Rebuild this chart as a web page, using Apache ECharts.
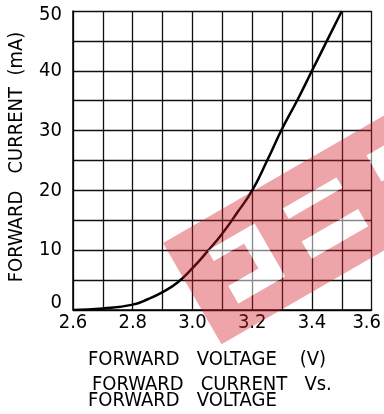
<!DOCTYPE html>
<html>
<head>
<meta charset="utf-8">
<script src="https://cdn.jsdelivr.net/npm/echarts@6/dist/echarts.min.js"></script>
<style>
html,body{margin:0;padding:0;background:#fff;}
#c{width:384px;height:414px;}
</style>
</head>
<body>
<div id="c"></div>
<script>
// Data
var voltage = [2.6, 2.7, 2.8, 2.85, 2.9, 2.95, 3.0, 3.05, 3.1, 3.15, 3.2, 3.25, 3.3, 3.35, 3.4, 3.45, 3.5];
var current = [0, 0.25, 0.9, 1.8, 3.0, 4.6, 7.0, 9.8, 12.8, 16.3, 20, 25, 30.3, 35, 40, 45, 50];
var xTickLabels = ['2.6', '2.8', '3.0', '3.2', '3.4', '3.6'];
var yTickLabels = ['0', '10', '20', '30', '40', '50'];
var yAxisTitle = 'FORWARD   CURRENT  (mA)';
var captionLines = ['FORWARD   VOLTAGE    (V)', 'FORWARD   CURRENT   Vs.', 'FORWARD   VOLTAGE'];

var FONT = '"DejaVu Sans Condensed", "DejaVu Sans", sans-serif';
var pts = voltage.map(function (v, i) { return [v, current[i]]; });

// Watermark geometry (decorative band, local coords u along band, v across)
var ox = 163, oy = 243, ca = Math.cos(Math.PI / 6), sa = Math.sin(Math.PI / 6);
function toScr(p) { return [ox + p[0] * ca + p[1] * sa, oy - p[0] * sa + p[1] * ca]; }
function rectHole(u0, v0, u1, v1) { return [[u0, v0], [u0, v1], [u1, v1], [u1, v0]]; }
var holes = [
  rectHole(121, 30, 183, 42),
  rectHole(121, 68, 186, 88),
  [[35, 29], [35, 41], [70, 41], [70, 70], [35, 70], [35, 90], [89, 90], [89, 29]],
  rectHole(220, 26, 320, 56)
];
var outer = [[0, 0], [330, 0], [330, 117], [0, 117], [0, 0]];
var bandPts = outer.slice();
holes.forEach(function (h) {
  bandPts = bandPts.concat(h, [h[0], [0, 0]]);
});
var graphics = [
  {
    type: 'polygon', z: 100, silent: true,
    shape: { points: bandPts.map(toScr) },
    style: { fill: 'rgba(210,30,40,0.4)' }
  }
];
holes.forEach(function (h) {
  graphics.push({
    type: 'polygon', z: 100, silent: true,
    shape: { points: h.map(toScr) },
    style: { fill: 'rgba(255,255,255,0.5)' }
  });
});
graphics.push({
  type: 'text', x: 17, y: 157, rotation: Math.PI / 2, z: 50,
  style: { text: yAxisTitle, font: '20px ' + FONT, fill: '#000', align: 'center', verticalAlign: 'middle', textAlign: 'center', textVerticalAlign: 'middle' }
});
var capY = [360, 385, 401], capX = [88, 92, 88];
captionLines.forEach(function (t, i) {
  graphics.push({
    type: 'text', x: capX[i], y: capY[i], z: 50,
    style: { text: t, font: '20px ' + FONT, fill: '#000', align: 'left', verticalAlign: 'middle', textAlign: 'left', textVerticalAlign: 'middle' }
  });
});

var chart = echarts.init(document.getElementById('c'), null, { renderer: 'canvas' });
chart.setOption({
  animation: false,
  backgroundColor: '#fff',
  grid: { left: 73, right: 12, top: 11, bottom: 104, containLabel: false },
  xAxis: {
    type: 'value', min: 2.6, max: 3.6, interval: 0.1,
    axisLine: { show: true, lineStyle: { color: '#000', width: 1.5 } },
    axisTick: { show: false },
    splitLine: { show: true, lineStyle: { color: '#111', width: 1.3 } },
    axisLabel: {
      margin: 3, color: '#000', fontSize: 20, fontFamily: FONT,
      formatter: function (v) {
        var s = v.toFixed(1);
        if (xTickLabels.indexOf(s) < 0) return '';
        return s === '3.6' ? '{r|' + s + '}' : s;
      },
      rich: { r: { fontSize: 20, fontFamily: FONT, color: '#000', padding: [0, 10, 0, 0] } }
    }
  },
  yAxis: {
    type: 'value', min: 0, max: 50, interval: 5,
    axisLine: { show: true, lineStyle: { color: '#000', width: 1.5 } },
    axisTick: { show: false },
    splitLine: { show: true, lineStyle: { color: '#111', width: 1.3 } },
    axisLabel: {
      margin: 11, color: '#000', fontSize: 20, fontFamily: FONT,
      formatter: function (v) {
        var s = String(Math.round(v));
        if (yTickLabels.indexOf(s) < 0) return '';
        if (s === '50') return '{t|' + s + '}';
        if (s === '0') return '{b|' + s + '}';
        return s;
      },
      rich: {
        t: { fontSize: 20, fontFamily: FONT, color: '#000', padding: [8, 0, 0, 0] },
        b: { fontSize: 20, fontFamily: FONT, color: '#000', padding: [0, 0, 14, 0] }
      }
    }
  },
  series: [{
    type: 'line', data: pts, smooth: true, symbol: 'none',
    lineStyle: { color: '#000', width: 2.5 }, z: 10
  }],
  graphic: graphics
});
</script>
</body>
</html>
